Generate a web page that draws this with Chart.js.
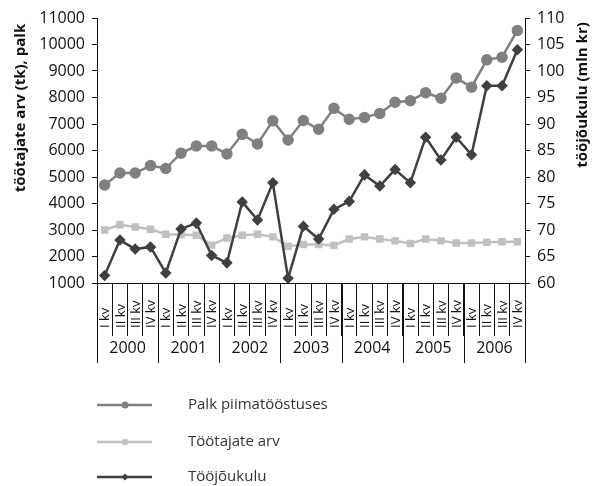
<!DOCTYPE html>
<html>
<head>
<meta charset="utf-8">
<script src="https://cdn.jsdelivr.net/npm/chart.js@4.4.0/dist/chart.umd.min.js"></script>
<style>
  html, body { margin: 0; padding: 0; background: #fff; }
  #wrap { width: 592px; height: 486px; position: relative; }
</style>
</head>
<body>
<div id="wrap"><canvas id="chart"></canvas></div>
<script>
// Data
const years = ['2000', '2001', '2002', '2003', '2004', '2005', '2006'];
const quarters = ['I kv', 'II kv', 'III kv', 'IV kv'];
const palk = [4700, 5150, 5150, 5430, 5320, 5900, 6170, 6170, 5870, 6610, 6250, 7120,
              6400, 7130, 6800, 7590, 7180, 7250, 7400, 7820, 7880, 8180, 7970, 8740,
              8390, 9420, 9520, 10530];
const tootajad = [3000, 3200, 3110, 3030, 2840, 2830, 2800, 2430, 2700, 2800, 2840, 2740,
                  2390, 2450, 2450, 2420, 2660, 2740, 2660, 2590, 2490, 2660, 2590, 2510,
                  2510, 2540, 2560, 2560];
const kulu = [61.4, 68.1, 66.4, 66.8, 61.9, 70.2, 71.3, 65.2, 63.8, 75.3, 71.9, 78.9,
              60.9, 70.7, 68.3, 73.9, 75.4, 80.4, 78.3, 81.4, 78.9, 87.5, 83.2, 87.5,
              84.2, 97.2, 97.2, 104.0];
const leftTitle = 'töötajate arv (tk), palk';
const rightTitle = 'tööjõukulu (mln kr)';
const seriesNames = ['Palk piimatööstuses', 'Töötajate arv', 'Tööjõukulu'];

const categories = years.flatMap(() => quarters);

const ink = '#111';
const colPalk = '#808080';
const colTootajad = '#c0c0c0';
const colKulu = '#404040';
const font = '"Open Sans", "DejaVu Sans", sans-serif';

// Draws quarter/year labels, year separators, axis titles and the legend
const extras = {
  id: 'extras',
  afterDraw(chart) {
    const { ctx, chartArea, scales: { x } } = chart;
    const step = x.getPixelForValue(1) - x.getPixelForValue(0);
    const bottom = chartArea.bottom;
    ctx.save();
    ctx.fillStyle = ink;

    // quarter labels, rotated
    ctx.font = '13px ' + font;
    ctx.textAlign = 'left';
    ctx.textBaseline = 'middle';
    categories.forEach((c, i) => {
      ctx.save();
      ctx.translate(x.getPixelForValue(i) + 1, bottom + 45);
      ctx.rotate(-Math.PI / 2);
      ctx.fillText(c, 0, 0);
      ctx.restore();
    });

    // year labels and long separators
    ctx.font = '16px ' + font;
    ctx.textAlign = 'center';
    ctx.strokeStyle = ink;
    ctx.lineWidth = 1;
    years.forEach((y, k) => {
      const a = x.getPixelForValue(k * 4);
      const b = x.getPixelForValue(k * 4 + 3);
      ctx.fillText(y, (a + b) / 2, bottom + 65);
    });
    for (let k = 0; k <= years.length; k++) {
      const px = Math.round(x.getPixelForValue(k * 4) - step / 2) + 0.5;
      ctx.beginPath();
      ctx.moveTo(px, bottom);
      ctx.lineTo(px, bottom + 80);
      ctx.stroke();
    }

    // axis titles
    ctx.font = 'bold 15px ' + font;
    ctx.textBaseline = 'middle';
    ctx.save();
    ctx.translate(21, 108);
    ctx.rotate(-Math.PI / 2);
    ctx.fillText(leftTitle, 0, 0);
    ctx.restore();
    ctx.save();
    ctx.translate(583, 95);
    ctx.rotate(-Math.PI / 2);
    ctx.fillText(rightTitle, 0, 0);
    ctx.restore();

    // legend
    const items = [
      { color: colPalk, style: 'circle', r: 3.5 },
      { color: colTootajad, style: 'rect', r: 4 },
      { color: colKulu, style: 'rectRot', r: 3.5 }
    ];
    const rows = [405, 442, 477];
    ctx.font = '15px ' + font;
    ctx.textAlign = 'left';
    items.forEach((it, i) => {
      const yy = rows[i];
      ctx.strokeStyle = it.color;
      ctx.fillStyle = it.color;
      ctx.lineWidth = 2.5;
      ctx.beginPath();
      ctx.moveTo(97, yy);
      ctx.lineTo(152, yy);
      ctx.stroke();
      Chart.helpers.drawPoint(ctx, { pointStyle: it.style, radius: it.r, rotation: 0, borderWidth: 0 }, 125, yy);
      ctx.fillStyle = '#333';
      ctx.fillText(seriesNames[i], 188, yy);
    });
    ctx.restore();
  }
};

new Chart(document.getElementById('chart'), {
  type: 'line',
  data: {
    labels: categories,
    datasets: [
      {
        label: seriesNames[2], data: kulu, yAxisID: 'y1',
        borderColor: colKulu, backgroundColor: colKulu, borderWidth: 2.5,
        pointStyle: 'rectRot', pointRadius: 4, tension: 0
      },
      {
        label: seriesNames[1], data: tootajad, yAxisID: 'y',
        borderColor: colTootajad, backgroundColor: colTootajad, borderWidth: 2.5,
        pointStyle: 'rect', pointRadius: 3.5, tension: 0
      },
      {
        label: seriesNames[0], data: palk, yAxisID: 'y',
        borderColor: colPalk, backgroundColor: colPalk, borderWidth: 2.5,
        pointStyle: 'circle', pointRadius: 4.5, tension: 0
      }
    ]
  },
  options: {
    responsive: true,
    maintainAspectRatio: false,
    animation: false,
    layout: { padding: { top: 18, left: 0, right: 0, bottom: 0 } },
    plugins: {
      legend: { display: false },
      tooltip: { enabled: false }
    },
    scales: {
      x: {
        offset: true,
        grid: { offset: true, drawOnChartArea: false, tickLength: 53, color: ink },
        border: { color: ink },
        ticks: { display: false },
        afterFit: function(scale) { scale.height = 203; }
      },
      y: {
        position: 'left',
        min: 1000,
        max: 11000,
        ticks: {
          stepSize: 1000, color: ink, padding: 7, font: { family: font, size: 16 },
          callback: function(value) { return String(value); }
        },
        grid: { drawOnChartArea: false, tickLength: 5, color: ink },
        border: { color: ink },
        afterFit: function(scale) { scale.width = 97; }
      },
      y1: {
        position: 'right',
        min: 60,
        max: 110,
        ticks: {
          stepSize: 5, color: ink, padding: 7, font: { family: font, size: 16 },
          callback: function(value) { return String(value); }
        },
        grid: { drawOnChartArea: false, tickLength: 5, color: ink },
        border: { color: ink },
        afterFit: function(scale) { scale.width = 67; }
      }
    }
  },
  plugins: [extras]
});
</script>
</body>
</html>
